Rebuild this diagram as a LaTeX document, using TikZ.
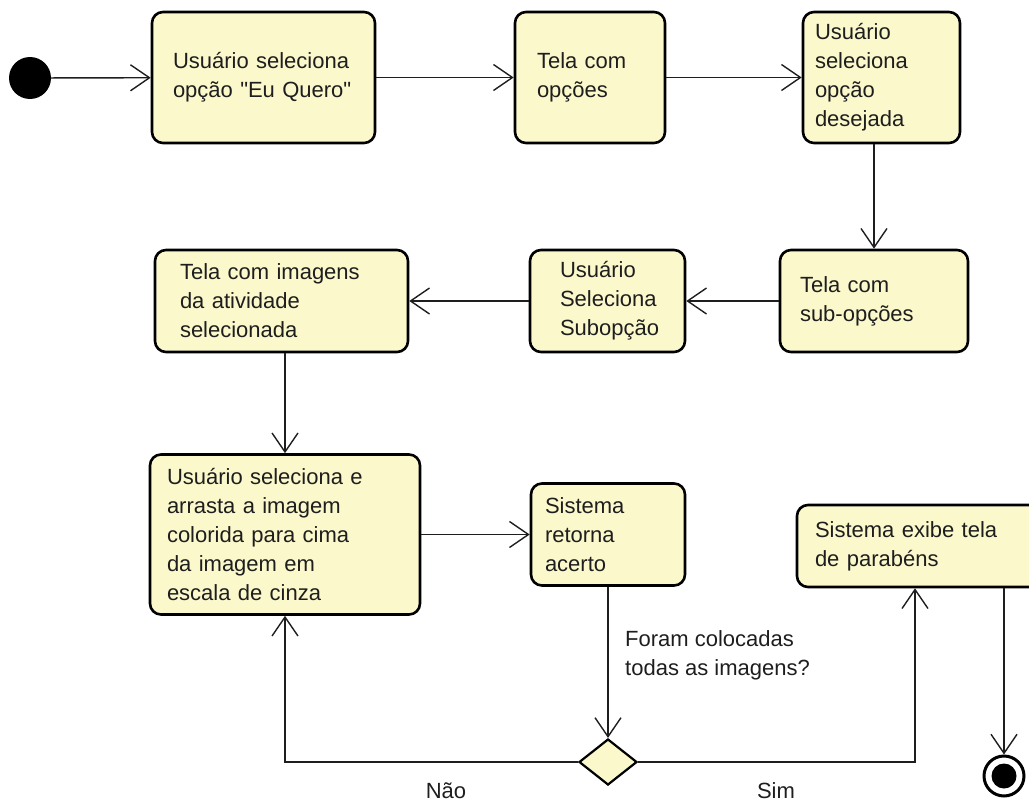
\documentclass[tikz,border=0pt]{standalone}
\usepackage{fontspec}
\setmainfont{Liberation Sans}[Ligatures=TeXOff]
\usetikzlibrary{arrows.meta,shapes.geometric}
\definecolor{boxfill}{RGB}{251,248,204}
\definecolor{ink}{RGB}{30,30,30}
\begin{document}
\begin{tikzpicture}[x=1pt,y=-1pt,
  act/.style={draw=black, line width=2.6pt, rounded corners=11pt, fill=boxfill,
    align=left, font=\fontsize{22}{29}\selectfont, text=ink, inner ysep=0pt},
  conn/.style={line width=1.4pt, draw=ink, -{Straight Barb[length=19pt,width=26pt]}},
  lbl/.style={font=\fontsize{22}{29}\selectfont, text=ink, align=left, inner sep=0pt},
  word/.style={font=\fontsize{22}{29}\selectfont, text=ink, inner sep=0pt}]
\useasboundingbox (0,0) rectangle (1029,803);
% start
\node[circle, fill=black, minimum size=42pt, inner sep=0pt] (init) at (30,78) {};
% activities
\node[act, text width=181pt, inner xsep=21pt, minimum height=131pt] (b1) at (263.5,77.5)
  {\mbox{Usuário seleciona}\\\mbox{opção "Eu Quero"}};
\node[act, text width=106pt, inner xsep=22pt, minimum height=131pt] (b2) at (590,77.5)
  {Tela~com\\opções};
\node[act, text width=133pt, inner xsep=12pt, minimum height=131pt] (b3) at (881.5,77.5)
  {Usuário\\seleciona\\opção\\desejada};
\node[act, text width=148pt, inner xsep=20pt, minimum height=102pt] (b4) at (874,301)
  {Tela~com\\sub-opções};
\node[act, text width=95pt, inner xsep=30pt, minimum height=102pt] (b5) at (607.5,301)
  {Usuário\\Seleciona\\Subopção};
\node[act, text width=203pt, inner xsep=25pt, minimum height=102pt] (b6) at (281.5,301)
  {Tela~com~imagens\\da~atividade\\selecionada};
\node[act, text width=236pt, inner xsep=17pt, minimum height=160pt] (b7) at (285,534.5)
  {Usuário~seleciona~e\\arrasta~a~imagem\\colorida~para~cima\\da~imagem~em\\escala~de~cinza};
\node[act, text width=126pt, inner xsep=14pt, minimum height=102pt] (b8) at (608,534.5)
  {Sistema\\retorna\\acerto};
\node[act, text width=234pt, inner xsep=18pt, minimum height=82pt] (b9) at (932,546)
  {Sistema~exibe~tela\\de~parabéns};
% decision
\node[diamond, draw=black, line width=2.2pt, fill=boxfill, minimum width=58pt,
  minimum height=46pt, inner sep=0pt] (dec) at (608,762) {};
% end
\node[circle, draw=black, line width=3pt, fill=white, minimum size=40pt, inner sep=0pt] (fin) at (1004,776) {};
\node[circle, fill=black, minimum size=25pt, inner sep=0pt] (finin) at (fin) {};
\coordinate (simx) at (915,0);
% labels
\node[lbl, anchor=north west] (q) at (625,630) {Foram colocadas\\todas as imagens?};
\node[word] (nao) at (446,791) {Não};
\node[word] (sim) at (776,791) {Sim};
% connectors
\draw[conn] (init) -- (b1);
\draw[conn] (b1) -- (b2);
\draw[conn] (b2) -- (b3);
\draw[conn] (b3.south -| b4.north) -- (b4.north);
\draw[conn] (b4) -- (b5);
\draw[conn] (b5) -- (b6);
\draw[conn] (b6.south -| b7.north) -- (b7.north);
\draw[conn] (b7) -- (b8);
\draw[conn] (b8) -- (dec);
\draw[conn] (dec.west) -| (b7.south);
\draw[conn] (dec.east) -| (b9.south -| simx);
\draw[conn] (b9.south -| fin) -- (fin.north);
\end{tikzpicture}
\end{document}
